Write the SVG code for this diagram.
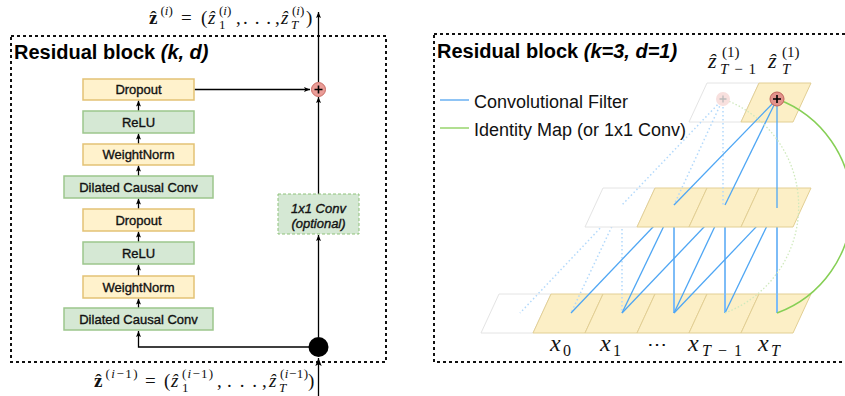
<svg xmlns="http://www.w3.org/2000/svg" width="845" height="396" viewBox="0 0 845 396">
<defs>
<style>
.sans{font-family:"Liberation Sans",Arial,sans-serif;}
.title{font-family:"Liberation Sans",Arial,sans-serif;font-weight:bold;font-size:20px;fill:#000;}
.lbl{font-family:"Liberation Sans",Arial,sans-serif;font-size:13px;fill:#111;stroke:#111;stroke-width:0.35;text-anchor:middle;}
.ny{fill:#fff2cc;stroke:#e3c275;stroke-width:1.5;}
.ng{fill:#d5e8d4;stroke:#9cc68c;stroke-width:1.5;}
.frame{fill:none;stroke:#111;stroke-width:2;stroke-dasharray:3 3;}
.wire{fill:none;stroke:#000;stroke-width:1.3;}
.m{font-family:"Liberation Serif","DejaVu Serif",serif;fill:#111;}
.mi{font-style:italic;}
.cy{fill:#fcefc6;stroke:#e2cf94;stroke-width:1;}
.cw{fill:#fff;stroke:#e4e4e4;stroke-width:1;}
.bl{stroke:#4ea6f4;stroke-width:1.3;fill:none;}
.bv{stroke:#7dbcf7;stroke-width:2;fill:none;}
.gh{stroke:#b3d9fb;stroke-width:1.5;stroke-dasharray:1.5 2.5;fill:none;}
.leg{font-family:"Liberation Sans",Arial,sans-serif;font-size:18px;fill:#111;}
</style>
<marker id="as" markerUnits="userSpaceOnUse" markerWidth="6" markerHeight="6" viewBox="0 0 6 6" refX="6" refY="3" orient="auto">
<path d="M0,0.5 L6,3 L0,5.5 L1.3,3 Z" fill="#000"/>
</marker>
<marker id="al" markerUnits="userSpaceOnUse" markerWidth="8" markerHeight="8" viewBox="0 0 8 8" refX="8" refY="4" orient="auto">
<path d="M0,0.8 L8,4 L0,7.2 L1.8,4 Z" fill="#000"/>
</marker>
</defs>
<rect width="845" height="396" fill="#fff"/>

<!-- LEFT PANEL -->
<g id="left-frame">
<rect class="frame" x="11" y="36" width="375" height="326"/>
<text class="title" x="14" y="59">Residual block <tspan font-style="italic">(k, d)</tspan></text>
</g>

<g id="connectors-left">
<line class="wire" x1="138.5" y1="111" x2="138.5" y2="100.5" marker-end="url(#as)"/>
<line class="wire" x1="138.5" y1="144" x2="138.5" y2="133.5" marker-end="url(#as)"/>
<line class="wire" x1="138.5" y1="176" x2="138.5" y2="165.5" marker-end="url(#as)"/>
<line class="wire" x1="138.5" y1="209" x2="138.5" y2="198.5" marker-end="url(#as)"/>
<line class="wire" x1="138.5" y1="242" x2="138.5" y2="231.5" marker-end="url(#as)"/>
<line class="wire" x1="138.5" y1="276" x2="138.5" y2="264.5" marker-end="url(#as)"/>
<line class="wire" x1="138.5" y1="308" x2="138.5" y2="298.5" marker-end="url(#as)"/>
<line class="wire" x1="318.5" y1="396" x2="318.5" y2="358" marker-end="url(#al)"/>
<polyline class="wire" points="310,347 138.5,347 138.5,331" marker-end="url(#as)"/>
<line class="wire" x1="318.5" y1="337" x2="318.5" y2="235" marker-end="url(#as)"/>
<line class="wire" x1="318.5" y1="194" x2="318.5" y2="97" marker-end="url(#as)"/>
<line class="wire" x1="194.5" y1="89.5" x2="310" y2="89.5" marker-end="url(#as)"/>
<line class="wire" x1="318.5" y1="82" x2="318.5" y2="12" marker-end="url(#as)"/>
</g>

<g id="n-dropout1"><rect class="ny" x="83" y="79" width="111" height="21"/><text class="lbl" x="138.5" y="94">Dropout</text></g>
<g id="n-relu1"><rect class="ng" x="83" y="111" width="111" height="22"/><text class="lbl" x="138.5" y="126.5">ReLU</text></g>
<g id="n-wn1"><rect class="ny" x="83" y="144" width="111" height="21"/><text class="lbl" x="138.5" y="159">WeightNorm</text></g>
<g id="n-dcc1"><rect class="ng" x="64" y="176" width="149" height="22"/><text class="lbl" x="138.5" y="191.5">Dilated Causal Conv</text></g>
<g id="n-dropout2"><rect class="ny" x="83" y="209" width="111" height="22"/><text class="lbl" x="138.5" y="224.5">Dropout</text></g>
<g id="n-relu2"><rect class="ng" x="83" y="242" width="111" height="22"/><text class="lbl" x="138.5" y="257.5">ReLU</text></g>
<g id="n-wn2"><rect class="ny" x="83" y="276" width="111" height="22"/><text class="lbl" x="138.5" y="291.5">WeightNorm</text></g>
<g id="n-dcc2"><rect class="ng" x="64" y="308" width="149" height="22"/><text class="lbl" x="138.5" y="323.5">Dilated Causal Conv</text></g>
<g id="n-conv1x1"><rect x="278" y="194" width="81" height="40" fill="#d5e8d4" stroke="#8fc27a" stroke-width="1" stroke-dasharray="3 2"/>
<text class="lbl" x="318.5" y="212.5" font-style="italic">1x1 Conv</text>
<text class="lbl" x="318.5" y="227.5" font-style="italic">(optional)</text></g>
<g id="n-add"><circle cx="318.5" cy="89.5" r="7" fill="#ea9c97" stroke="#c86b63" stroke-width="1"/>
<path d="M314.5,89.5 H322.5 M318.5,85.5 V93.5" stroke="#000" stroke-width="1.6"/></g>
<g id="n-split"><circle cx="318.5" cy="347" r="10" fill="#000"/></g>

<g id="label-out" class="m" font-size="19">
<text x="149" y="24" font-weight="bold">ẑ</text>
<text x="160.5" y="15" font-size="13">(<tspan class="mi">i</tspan>)</text>
<text x="181" y="24">=</text>
<text x="201" y="24">(</text>
<text x="208" y="24" class="mi">ẑ</text>
<text x="219" y="15" font-size="13">(<tspan class="mi">i</tspan>)</text>
<text x="219" y="29" font-size="13">1</text>
<text x="236" y="24">,</text>
<text x="243" y="24" textLength="28">. . .</text>
<text x="275" y="24">,</text>
<text x="281" y="24" class="mi">ẑ</text>
<text x="292" y="15" font-size="13">(<tspan class="mi">i</tspan>)</text>
<text x="291" y="29" font-size="13" class="mi">T</text>
<text x="306" y="24">)</text>
</g>

<g id="label-in" class="m" font-size="19">
<text x="94" y="387" font-weight="bold">ẑ</text>
<text x="105.5" y="378" font-size="13" textLength="32">(<tspan class="mi">i</tspan>−1)</text>
<text x="145" y="387">=</text>
<text x="164" y="387">(</text>
<text x="171" y="387" class="mi">ẑ</text>
<text x="182" y="378" font-size="13" textLength="31">(<tspan class="mi">i</tspan>−1)</text>
<text x="182" y="392" font-size="13">1</text>
<text x="217" y="387">,</text>
<text x="227" y="387" textLength="30">. . .</text>
<text x="262" y="387">,</text>
<text x="269" y="387" class="mi">ẑ</text>
<text x="280" y="378" font-size="13" textLength="28">(<tspan class="mi">i</tspan>−1)</text>
<text x="279" y="392" font-size="13" class="mi">T</text>
<text x="308" y="387">)</text>
</g>

<!-- RIGHT PANEL -->
<g id="right-frame">
<rect class="frame" x="434" y="34" width="430" height="328" stroke-dasharray="2.5 3"/>
<text class="title" x="437" y="58">Residual block <tspan font-style="italic">(k=3, d=1)</tspan></text>
</g>

<g id="legend">
<line x1="440" y1="100" x2="469" y2="100" stroke="#6ab0f2" stroke-width="1.5"/>
<text class="leg" x="474" y="107.5">Convolutional Filter</text>
<line x1="440" y1="128" x2="469" y2="128" stroke="#97d46d" stroke-width="1.5"/>
<text class="leg" x="474" y="135.5">Identity Map (or 1x1 Conv)</text>
</g>

<g id="layer-input">
<polygon class="cw" points="499,294 551,294 533,333 481,333"/>
<polygon class="cy" points="551,294 603,294 585,333 533,333"/>
<polygon class="cy" points="603,294 655,294 637,333 585,333"/>
<polygon class="cy" points="655,294 707,294 689,333 637,333"/>
<polygon class="cy" points="707,294 759,294 741,333 689,333"/>
<polygon class="cy" points="759,294 811,294 793,333 741,333"/>
</g>

<g id="connectors-lower">
<line class="gh" x1="622" y1="205" x2="520" y2="313"/>
<line class="gh" x1="622" y1="205" x2="571" y2="313"/>
<line class="gh" x1="622" y1="205" x2="622" y2="313"/>
<line class="bl" x1="674" y1="205" x2="571" y2="313"/>
<line class="bl" x1="674" y1="205" x2="622" y2="313"/>
<line class="bv" x1="674" y1="205" x2="674" y2="313"/>
<line class="bl" x1="725" y1="205" x2="622" y2="313"/>
<line class="bl" x1="725" y1="205" x2="674" y2="313"/>
<line class="bv" x1="725" y1="205" x2="725" y2="313"/>
<line class="bl" x1="777" y1="205" x2="674" y2="313"/>
<line class="bl" x1="777" y1="205" x2="725" y2="313"/>
<line class="bv" x1="777" y1="205" x2="777" y2="313"/>
</g>

<g id="layer-hidden">
<polygon class="cw" points="603,188 655,188 637,227 585,227"/>
<polygon class="cy" points="655,188 707,188 689,227 637,227"/>
<polygon class="cy" points="707,188 759,188 741,227 689,227"/>
<polygon class="cy" points="759,188 811,188 793,227 741,227"/>
</g>

<g id="layer-output">
<polygon class="cw" points="707,83 759,83 741,122 689,122"/>
<polygon class="cy" points="759,83 811,83 793,122 741,122"/>
</g>

<g id="connectors-upper">
<line class="gh" x1="723" y1="99" x2="622" y2="205"/>
<line class="gh" x1="723" y1="99" x2="674" y2="205"/>
<line class="gh" x1="723" y1="99" x2="723" y2="205"/>
<line class="bl" x1="777" y1="99" x2="674" y2="205"/>
<line class="bl" x1="777" y1="99" x2="725" y2="205"/>
<line class="bl" x1="777" y1="99" x2="777" y2="208"/>
<path d="M725,313 A114,114 0 0 0 723,99" fill="none" stroke="#cfe9bd" stroke-width="1.3" stroke-dasharray="1.5 2"/>
<path d="M777,313 A114,114 0 0 0 777,99" fill="none" stroke="#86cf55" stroke-width="1.5"/>
</g>

<g id="n-add-ghost"><circle cx="723" cy="99" r="7" fill="#f8e0de"/>
<path d="M719.5,99 H726.5 M723,95.5 V102.5" stroke="#bbb" stroke-width="1.3"/></g>
<g id="n-add-out"><circle cx="777" cy="99" r="7" fill="#e3928b" stroke="#c0635b" stroke-width="1"/>
<path d="M773,99 H781 M777,95 V103" stroke="#000" stroke-width="1.6"/></g>

<g id="labels-right" class="m">
<text x="708" y="68" font-size="22" class="mi">ẑ</text>
<text x="722" y="57" font-size="15">(1)</text>
<text x="720" y="74" font-size="15" textLength="36"><tspan class="mi">T</tspan>−1</text>
<text x="768" y="68" font-size="22" class="mi">ẑ</text>
<text x="782" y="57" font-size="15">(1)</text>
<text x="782" y="74" font-size="15" class="mi">T</text>
<text x="550" y="351" font-size="24" class="mi">x</text>
<text x="563" y="356" font-size="16">0</text>
<text x="600" y="351" font-size="24" class="mi">x</text>
<text x="613" y="356" font-size="16">1</text>
<text x="647" y="351" font-size="20" textLength="23">⋯</text>
<text x="688" y="351" font-size="24" class="mi">x</text>
<text x="702" y="356" font-size="16" textLength="40"><tspan class="mi">T</tspan>−1</text>
<text x="758" y="351" font-size="24" class="mi">x</text>
<text x="771" y="356" font-size="16" class="mi">T</text>
</g>
</svg>
